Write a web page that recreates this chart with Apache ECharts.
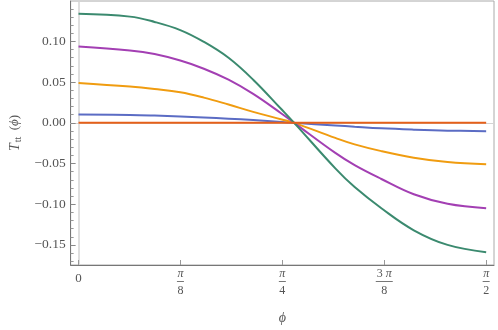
<!DOCTYPE html>
<html><head><meta charset="utf-8">
<script src="https://cdn.jsdelivr.net/npm/echarts@6/dist/echarts.min.js"></script>
<style>html,body{margin:0;padding:0;background:#fff}#c{width:498px;height:330px}</style>
</head><body><div id="c"></div>
<script>
const phi    = [0, 0.198, 0.293, 0.392, 0.483, 0.578, 0.673, 0.783, 0.831, 0.9895, 1.064, 1.167, 1.292, 1.422, 1.5708];
const green  = [0.134, 0.1305, 0.124, 0.114, 0.0995, 0.0799, 0.053, 0.0163, 0, -0.056, -0.079, -0.105, -0.132, -0.150, -0.159];
const purple = [0.0938, 0.0889, 0.0845, 0.0765, 0.0665, 0.053, 0.0355, 0.0112, 0, -0.037, -0.052, -0.069, -0.0878, -0.0995, -0.1049];
const orange = [0.049, 0.0445, 0.0415, 0.0375, 0.031, 0.0225, 0.0135, 0.0042, 0, -0.0185, -0.0265, -0.0348, -0.0428, -0.0482, -0.051];
const blue   = [0.0102, 0.0096, 0.0089, 0.0079, 0.0066, 0.0051, 0.0034, 0.0011, 0, -0.0032, -0.0048, -0.0068, -0.0084, -0.0096, -0.0102];
const red    = [0, 0, 0, 0, 0, 0, 0, 0, 0, 0, 0, 0, 0, 0, 0];
const xTickValues = [0, Math.PI/8, Math.PI/4, 3*Math.PI/8, Math.PI/2];
const xTickLabels = ['{z|0}', '{n|π}\n{b|}\n{d|8}', '{n|π}\n{b|}\n{d|4}', '{nu|3 }{n|π}\n{b3|}\n{d|8}', '{n|π}\n{b|}\n{d|2}'];
const yTickValues = [-0.15, -0.10, -0.05, 0, 0.05, 0.10];
const yMinorValues = [-0.17,-0.16,-0.14,-0.13,-0.12,-0.11,-0.09,-0.08,-0.07,-0.06,-0.04,-0.03,-0.02,-0.01,0.01,0.02,0.03,0.04,0.06,0.07,0.08,0.09,0.11,0.12,0.13,0.14];

const X_MIN = -0.0304, X_MAX = 1.601, Y_MIN = -0.1747, Y_MAX = 0.1497;
const FONT = '"Liberation Serif", "DejaVu Serif", serif';
const pairs = arr => phi.map((p, i) => [p, arr[i]]);
const mk = (name, arr, color) => ({
  name, type: 'line', data: pairs(arr), smooth: 0.4, showSymbol: false,
  lineStyle: { color, width: 2 }, itemStyle: { color }, z: 3
});
const chart = echarts.init(document.getElementById('c'), null, { renderer: 'canvas' });
chart.setOption({
  animation: false,
  backgroundColor: '#fff',
  grid: { left: 65, right: 4, top: 1, bottom: 64, show: true, borderColor: '#aaa', borderWidth: 1 },
  xAxis: [
    {
      type: 'value', min: X_MIN, max: X_MAX,
      name: 'ϕ', nameLocation: 'middle', nameGap: 46,
      nameTextStyle: { fontFamily: FONT, fontStyle: 'italic', fontSize: 14, color: '#555' },
      axisLine: { show: true, onZero: false, lineStyle: { color: '#777', width: 1 } },
      axisTick: { show: true, inside: true, length: 5, customValues: xTickValues, lineStyle: { color: '#999' } },
      splitLine: { show: false },
      axisLabel: {
        customValues: xTickValues, margin: 3, color: '#555', fontFamily: FONT,
        formatter: (v) => {
          let best = 0;
          xTickValues.forEach((t, i) => { if (Math.abs(t - v) < Math.abs(xTickValues[best] - v)) best = i; });
          return xTickLabels[best];
        },
        rich: {
          z: { fontFamily: FONT, fontSize: 13, color: '#555', lineHeight: 22 },
          n: { fontFamily: FONT, fontSize: 12, fontStyle: 'italic', color: '#555', lineHeight: 11 },
          nu: { fontFamily: FONT, fontSize: 12, color: '#555', lineHeight: 11 },
          b: { width: 7, height: 1, backgroundColor: '#777', lineHeight: 5 },
          b3: { width: 17, height: 1, backgroundColor: '#777', lineHeight: 5 },
          d: { fontFamily: FONT, fontSize: 12, color: '#555', lineHeight: 14 }
        }
      }
    },
    {
      type: 'value', min: X_MIN, max: X_MAX, show: true,
      axisLine: { show: true, onZero: true, lineStyle: { color: '#d4d4d4', width: 1 } },
      axisTick: { show: false }, axisLabel: { show: false }, splitLine: { show: false }
    }
  ],
  yAxis: [
    {
      type: 'value', min: Y_MIN, max: Y_MAX,
      name: '{t|T}{s|tt}{p|  (}{f|ϕ}{p|)}', nameLocation: 'middle', nameGap: 47, nameRotate: 90,
      nameTextStyle: {
        rich: {
          t: { fontFamily: FONT, fontStyle: 'italic', fontSize: 14, color: '#555' },
          s: { fontFamily: FONT, fontSize: 10, color: '#555', padding: [7, 0, 0, 1] },
          p: { fontFamily: FONT, fontSize: 13, color: '#555' },
          f: { fontFamily: FONT, fontStyle: 'italic', fontSize: 13, color: '#555' }
        }
      },
      axisLine: { show: true, onZero: false, lineStyle: { color: '#777', width: 1 } },
      axisTick: { show: true, inside: true, length: 5, customValues: yTickValues, lineStyle: { color: '#888' } },
      splitLine: { show: false },
      axisLabel: {
        customValues: yTickValues, margin: 5, color: '#555', fontFamily: FONT, fontSize: 13.5,
        formatter: (v) => v.toFixed(2).replace('-', '−')
      }
    },
    {
      type: 'value', min: Y_MIN, max: Y_MAX, position: 'left',
      axisLine: { show: false, onZero: false },
      axisTick: { show: true, inside: true, length: 3, customValues: yMinorValues, lineStyle: { color: '#999' } },
      axisLabel: { show: false }, splitLine: { show: false }
    },
    {
      type: 'value', min: Y_MIN, max: Y_MAX,
      axisLine: { show: true, onZero: true, lineStyle: { color: '#d4d4d4', width: 1.5 } },
      axisTick: { show: false }, axisLabel: { show: false }, splitLine: { show: false }
    }
  ],
  series: [
    mk('blue', blue, '#5b6cc4'),
    mk('orange', orange, '#f09c10'),
    mk('purple', purple, '#a33fb3'),
    mk('green', green, '#3b8a6f'),
    mk('red', red, '#e5601a')
  ]
});
</script></body></html>
